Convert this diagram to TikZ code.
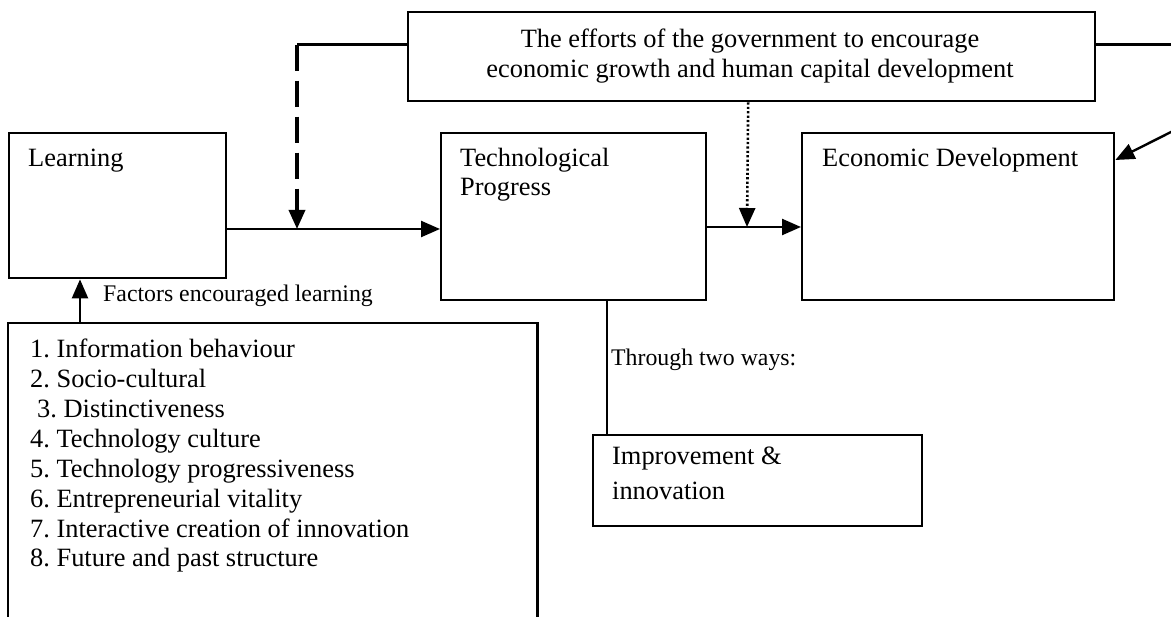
\documentclass[tikz,border=0pt]{standalone}
\usepackage{fontspec}
\setmainfont{Liberation Serif}
\usetikzlibrary{arrows.meta}
\frenchspacing

\begin{document}
\begin{tikzpicture}[x=1pt,y=-1pt,
  box/.style={draw,line width=2.4pt,inner sep=0pt,anchor=north west},
  txt/.style={inner sep=0pt,anchor=base west,font=\fontsize{26.4}{30}\selectfont},
  small/.style={inner sep=0pt,anchor=base west,font=\fontsize{23.8}{28}\selectfont},
  link/.style={line width=2.4pt},
  tip/.style={-{Triangle[length=19pt,width=16pt]}}
]
\useasboundingbox (0,0) rectangle (1171,617);

% boxes
\node[box,minimum width=217pt,minimum height=145pt] (learn) at (8,132) {};
\node[box,minimum width=265pt,minimum height=167pt] (tech) at (440,132) {};
\node[box,minimum width=312pt,minimum height=167pt] (econ) at (801,132) {};
\node[box,minimum width=687pt,minimum height=89pt] (gov) at (407,11) {};
\node[box,minimum width=329pt,minimum height=91pt] (impr) at (592,434) {};
\node[inner sep=0pt,anchor=north west,minimum width=529pt,minimum height=320pt] (list) at (8,323) {};
\draw[line width=2.4pt] (list.south west) -- (list.north west) -- (list.north east) -- (list.south east);

% box texts
\node[txt] (tlearn) at (28,167) {Learning};
\node[txt] (ttech1) at (460,167) {Technological};
\node[txt] (ttech2) at (460,196) {Progress};
\node[txt] (tecon) at (822,167) {Economic Development};
\node[txt,anchor=base] (tgov1) at (750,48) {The efforts of the government to encourage};
\node[txt,anchor=base] (tgov2) at (750,78) {economic growth and human capital development};
\node[txt] (timp1) at (612,465) {Improvement \&};
\node[txt] (timp2) at (612,500) {innovation};

% list of factors
\node[txt] (f1) at (30,358) {1. Information behaviour};
\node[txt] (f2) at (30,388) {2. Socio-cultural};
\node[txt] (f3) at (37,418) {3. Distinctiveness};
\node[txt] (f4) at (30,448) {4. Technology culture};
\node[txt] (f5) at (30,478) {5. Technology progressiveness};
\node[txt] (f6) at (30,508) {6. Entrepreneurial vitality};
\node[txt] (f7) at (30,538) {7. Interactive creation of innovation};
\node[txt] (f8) at (30,567) {8. Future and past structure};

% connector labels
\node[small] (lfac) at (103,302) {Factors encouraged learning};
\node[small] (lway) at (611,366) {Through two ways:};

% helper points
\coordinate (govL) at ([yshift=12pt]gov.west);
\coordinate (govR) at ([yshift=12pt]gov.east);
\coordinate (dashTop) at (govL -| 297,0);
\coordinate (join1) at (297,229);
\coordinate (join2) at (747,227);
\coordinate (edgeR) at (govR -| 1175,0);
\coordinate (edgeIn) at (1175,130);

% main flow
\draw[link,tip] ([yshift=-97pt]learn.north east) -- ([yshift=-97pt]tech.north west);
\draw[link,tip] ([yshift=-95pt]tech.north east) -- ([yshift=-95pt]econ.north west);

% government influence
\draw[link] (govL) -- (dashTop);
\draw[line width=3.4pt,dash pattern=on 26pt off 10pt,tip] (dashTop) -- (join1);
\draw[line width=2.6pt,dash pattern=on 2.2pt off 2.2pt,tip] ([xshift=-3.5pt]gov.south) -- (join2);
\draw[link] (govR) -- (edgeR);
\draw[link,tip] (edgeIn) -- ([yshift=-28pt]econ.north east);

% factors and ways
\draw[link,tip] (list.north west -| 80,0) -- (learn.south west -| 80,0);
\draw[link] (tech.south west -| 607,0) -- (impr.north west -| 607,0);
\end{tikzpicture}
\end{document}
